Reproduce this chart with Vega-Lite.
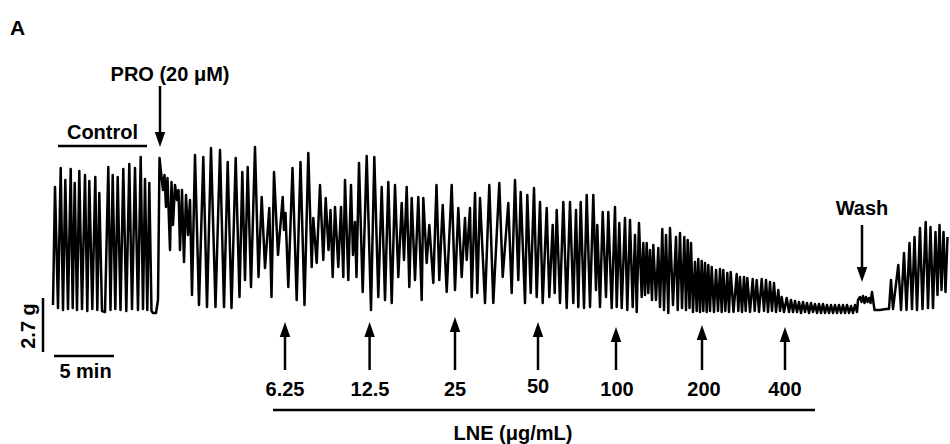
{
"$schema":"https://vega.github.io/schema/vega-lite/v6.json",
"width":950,"height":444,"autosize":{"type":"none"},"padding":0,"background":"white",
"config":{"view":{"stroke":null}},
"datasets":{
"trace":[
{"t":-5,"g":0.25},{"t":5,"g":6.15},{"t":20,"g":0.1},{"t":33.5,"g":7.1},{"t":45,"g":0},{"t":56.5,"g":6.5},{"t":70,"g":0.05},{"t":83.5,"g":7.05},{"t":93.5,"g":0.1},{"t":103.5,"g":6.35},{"t":115,"g":0},{"t":126.5,"g":6.95},{"t":140,"g":0.05},{"t":155,"g":6.75},{"t":166.5,"g":-0.05},{"t":176.5,"g":6.45},{"t":191.5,"g":0.05},{"t":206.5,"g":6.65},{"t":216.5,"g":0},{"t":226.5,"g":5.85},{"t":240,"g":-0.05},{"t":255,"g":-0.1},{"t":271.5,"g":7.15},{"t":282.5,"g":0},{"t":293.5,"g":6.75},{"t":306.5,"g":0.05},{"t":318.5,"g":6.65},{"t":332.5,"g":0},{"t":346.5,"g":7.05},{"t":361.5,"g":-0.05},{"t":376.5,"g":7.3},{"t":390,"g":0.05},{"t":405,"g":7.1},{"t":420,"g":0},{"t":433.5,"g":7.65},{"t":445,"g":0.05},{"t":455,"g":6.55},{"t":466.5,"g":0},{"t":476.5,"g":6.35},{"t":487.5,"g":-0.05},{"t":495,"g":-0.15},{"t":510,"g":-0.15},{"t":520,"g":0.5},{"t":527.5,"g":7.6},
{"t":535,"g":6.9},{"t":545,"g":6.0},{"t":552.5,"g":6.75},{"t":560,"g":5.15},{"t":567.5,"g":6.6},{"t":580,"g":3.0},{"t":587.5,"g":6.4},{"t":595,"g":4.25},{"t":605,"g":6.25},{"t":615,"g":5.5},{"t":622.5,"g":6.0},{"t":630,"g":3.0},{"t":640,"g":6.0},{"t":650,"g":2.4},{"t":660,"g":5.75},{"t":670,"g":3.75},{"t":680,"g":5.5},{"t":690,"g":0.75},
{"t":705,"g":7.75},{"t":725,"g":0.25},{"t":746.5,"g":7.65},{"t":765,"g":0.15},{"t":785,"g":8.1},{"t":807.5,"g":0.15},{"t":830,"g":8.0},{"t":850,"g":0.15},{"t":868.5,"g":7.4},{"t":887.5,"g":0.1},{"t":908.5,"g":7.6},{"t":927.5,"g":0.65},{"t":941.5,"g":6.9},{"t":955,"g":1.5},{"t":968.5,"g":7.15},{"t":985,"g":1.15},{"t":1005,"g":8.15},{"t":1022.5,"g":1.65},{"t":1038.5,"g":5.65},{"t":1055,"g":2.1},{"t":1076.5,"g":5.1},{"t":1087.5,"g":0.65},{"t":1100,"g":6.9},{"t":1120,"g":2.75},{"t":1143.5,"g":5.65},{"t":1150,"g":4.0},{"t":1157.5,"g":4.85},{"t":1171.5,"g":1.15},{"t":1192.5,"g":7.1},{"t":1213.5,"g":0.5},{"t":1232.5,"g":7.4},{"t":1252.5,"g":0.25},{"t":1271.5,"g":7.85},{"t":1288.5,"g":2.15},{"t":1296.5,"g":4.6},{"t":1313.5,"g":2.35},{"t":1330,"g":6.25},{"t":1346.5,"g":2.5},{"t":1358.5,"g":5.6},{"t":1372.5,"g":3.0},{"t":1382.5,"g":5.0},{"t":1393.5,"g":1.65},{"t":1405,"g":5.15},{"t":1421.5,"g":2.15},{"t":1435,"g":5.15},{"t":1446.5,"g":1.65},{"t":1455,"g":6.5},{"t":1471.5,"g":1.5},{"t":1485,"g":6.25},{"t":1495,"g":2.75},{"t":1505,"g":4.4},{"t":1512.5,"g":1.65},{"t":1525,"g":7.35},{"t":1543.5,"g":0.9},{"t":1563.5,"g":7.7},{"t":1585,"g":0},{"t":1601.5,"g":7.65},{"t":1621.5,"g":0.65},{"t":1638.5,"g":6.15},{"t":1655,"g":0.5},{"t":1671.5,"g":6.4},{"t":1688.5,"g":0.35},{"t":1705,"g":6.25},{"t":1721.5,"g":1.65},{"t":1738.5,"g":5.35},{"t":1750,"g":2.5},{"t":1763.5,"g":6.15},{"t":1776.5,"g":1.15},{"t":1788.5,"g":5.6},{"t":1805,"g":1.5},{"t":1821.5,"g":5.65},{"t":1838.5,"g":0.5},{"t":1846.5,"g":5.6},{"t":1863.5,"g":2.35},{"t":1876.5,"g":4.25},{"t":1896.5,"g":1.35},{"t":1912.5,"g":6.25},{"t":1926.5,"g":1.5},{"t":1943.5,"g":5.25},{"t":1963.5,"g":0.9},{"t":1988.5,"g":6.25},{"t":2005,"g":1.0},{"t":2021.5,"g":5.1},{"t":2038.5,"g":1.65},{"t":2055,"g":4.6},{"t":2063.5,"g":2.5},{"t":2080,"g":5.1},{"t":2088.5,"g":0.65},{"t":2105,"g":5.85},{"t":2116.5,"g":0.85},{"t":2130,"g":5.6},{"t":2155,"g":0.35},{"t":2176.5,"g":6.25},{"t":2196.5,"g":0.35},{"t":2226.5,"g":6.35},{"t":2243.5,"g":1.65},{"t":2271.5,"g":5.35},{"t":2288.5,"g":0.85},{"t":2305,"g":6.5},{"t":2321.5,"g":1.5},{"t":2333.5,"g":5.9},{"t":2355,"g":0.35},{"t":2366.5,"g":5.75},{"t":2383.5,"g":0.85},{"t":2400,"g":6.1},{"t":2413.5,"g":0.65},{"t":2430,"g":5.4},{"t":2443.5,"g":0.35},{"t":2463.5,"g":5.1},{"t":2476.5,"g":0.65},{"t":2493.5,"g":4.25},{"t":2503.5,"g":0.85},{"t":2513.5,"g":5.0},{"t":2530,"g":0.35},{"t":2546.5,"g":5.4},{"t":2563.5,"g":0.1},{"t":2580,"g":5.4},{"t":2596.5,"g":0.35},{"t":2610,"g":5.0},{"t":2621.5,"g":0.15},{"t":2633.5,"g":5.4},{"t":2650,"g":0.1},{"t":2663.5,"g":5.75},{"t":2680,"g":0.15},{"t":2696.5,"g":5.75},{"t":2710,"g":1.0},{"t":2716.5,"g":4.25},{"t":2730,"g":0.15},{"t":2743.5,"g":4.9},{"t":2760,"g":0.65},{"t":2771.5,"g":4.9},{"t":2788.5,"g":0.1},{"t":2805,"g":5.15},{"t":2813.5,"g":0.15},{"t":2826.5,"g":4.35},{"t":2838.5,"g":0.1},{"t":2855,"g":4.6},{"t":2866.5,"g":0},{"t":2880,"g":4.5},{"t":2893.5,"g":0.15},{"t":2905,"g":3.75},{"t":2913.5,"g":-0.1},{"t":2925,"g":4.35},{"t":2938.5,"g":0.65},{"t":2946.5,"g":3.35},{"t":2955,"g":0.75},{"t":2963.5,"g":3.35},{"t":2971.5,"g":0.85},{"t":2980,"g":3.0},{"t":2990,"g":0.5},{"t":2996.5,"g":3.25},{"t":3010,"g":0.5},{"t":3021.5,"g":3.1},{"t":3030,"g":0.15},{"t":3041.5,"g":4.05},{"t":3050,"g":0},{"t":3060,"g":3.75},{"t":3071.5,"g":-0.15},{"t":3080,"g":4.1},{"t":3095,"g":0.25},{"t":3110,"g":3.65},{"t":3118.5,"g":0},{"t":3130,"g":3.85},{"t":3140,"g":0.1},{"t":3151.5,"g":3.65},{"t":3160,"g":0},{"t":3168.5,"g":3.5},{"t":3177.5,"g":0.1},{"t":3185,"g":3.35},{"t":3195,"g":-0.1},{"t":3205,"g":2.4},{"t":3213.5,"g":-0.05},{"t":3221.5,"g":2.55},{"t":3230,"g":-0.1},{"t":3238.5,"g":2.45},{"t":3246.5,"g":-0.05},{"t":3255,"g":2.35},{"t":3263.5,"g":-0.1},{"t":3271.5,"g":2.25},{"t":3280,"g":-0.05},{"t":3288.5,"g":2.15},{"t":3300,"g":-0.1},{"t":3310,"g":2.0},{"t":3320,"g":-0.05},{"t":3330,"g":2.05},{"t":3338.5,"g":-0.1},{"t":3346.5,"g":2.0},{"t":3356.5,"g":-0.05},{"t":3366.5,"g":1.85},{"t":3375,"g":-0.1},{"t":3383.5,"g":1.9},{"t":3397.5,"g":-0.1},{"t":3413.5,"g":1.8},{"t":3421.5,"g":-0.05},{"t":3430,"g":1.65},{"t":3440,"g":-0.1},{"t":3450,"g":1.65},{"t":3458.5,"g":-0.05},{"t":3466.5,"g":1.6},{"t":3480,"g":-0.1},{"t":3493.5,"g":1.55},{"t":3503.5,"g":-0.05},{"t":3513.5,"g":1.5},{"t":3525,"g":-0.1},{"t":3538.5,"g":1.55},{"t":3550,"g":-0.05},{"t":3560,"g":1.5},{"t":3570,"g":-0.1},{"t":3580,"g":1.4},{"t":3590,"g":-0.05},{"t":3600,"g":1.35},{"t":3610,"g":-0.1},{"t":3621.5,"g":1.0},{"t":3630,"g":-0.05},{"t":3638.5,"g":0.65},{"t":3650,"g":-0.1},{"t":3663.5,"g":0.6},{"t":3675,"g":-0.1},
{"t":3685,"g":0.5},{"t":3695,"g":-0.1},{"t":3705,"g":0.45},{"t":3715,"g":-0.1},{"t":3725,"g":0.4},{"t":3735,"g":-0.15},{"t":3745,"g":0.4},{"t":3755,"g":-0.1},{"t":3765,"g":0.35},{"t":3775,"g":-0.15},{"t":3785,"g":0.35},{"t":3795,"g":-0.1},{"t":3805,"g":0.3},{"t":3815,"g":-0.15},{"t":3825,"g":0.3},{"t":3835,"g":-0.15},{"t":3845,"g":0.3},{"t":3855,"g":-0.15},{"t":3865,"g":0.25},{"t":3875,"g":-0.15},{"t":3885,"g":0.25},{"t":3895,"g":-0.15},{"t":3905,"g":0.25},{"t":3915,"g":-0.15},{"t":3925,"g":0.25},{"t":3935,"g":-0.15},{"t":3945,"g":0.25},{"t":3955,"g":-0.15},{"t":3965,"g":0.25},{"t":3975,"g":-0.15},{"t":3985,"g":0.2},{"t":3995,"g":-0.15},{"t":4005,"g":0.25},{"t":4015,"g":-0.1},
{"t":4020,"g":0.5},{"t":4030,"g":0.65},{"t":4037.5,"g":0.4},{"t":4045,"g":0.7},{"t":4052.5,"g":0.35},{"t":4060,"g":0.65},{"t":4067.5,"g":0.4},{"t":4075,"g":0.6},{"t":4082.5,"g":0.35},{"t":4090,"g":0.9},{"t":4097.5,"g":0.35},{"t":4102.5,"g":0},{"t":4130,"g":0},{"t":4160,"g":0.05},{"t":4175,"g":0.05},
{"t":4185,"g":1.5},{"t":4195,"g":0.05},{"t":4221.5,"g":2.25},{"t":4235,"g":0},{"t":4250,"g":2.85},{"t":4262.5,"g":0},{"t":4277.5,"g":3.35},{"t":4290,"g":0.05},{"t":4302.5,"g":3.65},{"t":4315,"g":0},{"t":4330,"g":4.1},{"t":4342.5,"g":0.05},{"t":4358.5,"g":4.4},{"t":4370,"g":0.1},{"t":4382.5,"g":4.15},{"t":4395,"g":0.1},{"t":4407.5,"g":3.9},{"t":4417.5,"g":0.75},{"t":4427.5,"g":4.25},{"t":4437.5,"g":1.0},{"t":4447.5,"g":3.9},{"t":4457.5,"g":0.9},{"t":4467.5,"g":3.65}
],
"rules":[
{"item":"Control bar","t1":20,"t2":465,"g1":8.2,"g2":8.2},
{"item":"5 min bar","t1":0,"t2":300,"g1":-2.3,"g2":-2.3},
{"item":"2.7 g bar","t1":-55,"t2":-55,"g1":0.6,"g2":-2.1},
{"item":"LNE bar","t1":1095,"t2":3805,"g1":-5.0,"g2":-5.0},
{"item":"PRO","t1":530,"t2":530,"g1":11.2,"g2":8.6},
{"item":"Wash","t1":4040,"t2":4040,"g1":4.25,"g2":1.9},
{"item":"6.25","t1":1155,"t2":1155,"g1":-1.05,"g2":-3.0},
{"item":"12.5","t1":1578,"t2":1578,"g1":-1.05,"g2":-3.0},
{"item":"25","t1":2005,"t2":2005,"g1":-0.8,"g2":-3.0},
{"item":"50","t1":2420,"t2":2420,"g1":-1.05,"g2":-3.0},
{"item":"100","t1":2810,"t2":2810,"g1":-1.3,"g2":-3.0},
{"item":"200","t1":3240,"t2":3240,"g1":-1.2,"g2":-3.0},
{"item":"400","t1":3655,"t2":3655,"g1":-1.3,"g2":-3.0}
],
"downHeads":[
{"item":"PRO","t":530,"g":8.53},
{"item":"Wash","t":4040,"g":1.78}
],
"upHeads":[
{"item":"6.25","t":1155,"g":-0.975},
{"item":"12.5","t":1578,"g":-0.975},
{"item":"25","t":2005,"g":-0.725},
{"item":"50","t":2420,"g":-0.975},
{"item":"100","t":2810,"g":-1.225},
{"item":"200","t":3240,"g":-1.125},
{"item":"400","t":3655,"g":-1.225}
],
"labels":[
{"label":"PRO (20 μM)","t":580,"g":11.45},
{"label":"Control","t":242.5,"g":8.55},
{"label":"5 min","t":157.5,"g":-3.4},
{"label":"Wash","t":4040,"g":4.75},
{"label":"6.25","t":1155,"g":-4.3},
{"label":"12.5","t":1580,"g":-4.3},
{"label":"25","t":2005,"g":-4.3},
{"label":"50","t":2420,"g":-4.15},
{"label":"100","t":2815,"g":-4.3},
{"label":"200","t":3250,"g":-4.3},
{"label":"400","t":3655,"g":-4.3},
{"label":"LNE (μg/mL)","t":2295,"g":-6.5}
],
"panel":[
{"label":"A","t":-182.5,"g":13.75}
],
"vlabels":[
{"label":"2.7 g","t":-97.5,"g":-0.8}
]
},
"layer":[
{"data":{"name":"trace"},
 "mark":{"type":"line","color":"black","strokeWidth":2.5,"strokeJoin":"round"},
 "encoding":{
  "x":{"field":"t","type":"quantitative","scale":{"domain":[-270,4480],"nice":false,"zero":false},"axis":null},
  "y":{"field":"g","type":"quantitative","scale":{"domain":[-6.7,15.5],"nice":false,"zero":false},"axis":null}}},
{"data":{"name":"rules"},
 "mark":{"type":"rule","color":"black","strokeWidth":2.5},
 "encoding":{
  "x":{"field":"t1","type":"quantitative"},"x2":{"field":"t2"},
  "y":{"field":"g1","type":"quantitative"},"y2":{"field":"g2"}}},
{"data":{"name":"downHeads"},
 "mark":{"type":"point","shape":"M-0.7,-1L0.7,-1L0,1Z","filled":true,"color":"black","opacity":1,"size":225,"strokeWidth":0},
 "encoding":{"x":{"field":"t","type":"quantitative"},"y":{"field":"g","type":"quantitative"}}},
{"data":{"name":"upHeads"},
 "mark":{"type":"point","shape":"M-0.7,1L0.7,1L0,-1Z","filled":true,"color":"black","opacity":1,"size":225,"strokeWidth":0},
 "encoding":{"x":{"field":"t","type":"quantitative"},"y":{"field":"g","type":"quantitative"}}},
{"data":{"name":"labels"},
 "mark":{"type":"text","font":"Liberation Sans","fontWeight":"bold","fontSize":20,"align":"center","baseline":"alphabetic","color":"black"},
 "encoding":{"x":{"field":"t","type":"quantitative"},"y":{"field":"g","type":"quantitative"},"text":{"field":"label"}}},
{"data":{"name":"panel"},
 "mark":{"type":"text","font":"Liberation Sans","fontWeight":"bold","fontSize":21,"align":"center","baseline":"alphabetic","color":"black"},
 "encoding":{"x":{"field":"t","type":"quantitative"},"y":{"field":"g","type":"quantitative"},"text":{"field":"label"}}},
{"data":{"name":"vlabels"},
 "mark":{"type":"text","font":"Liberation Sans","fontWeight":"bold","fontSize":20,"align":"center","baseline":"alphabetic","angle":270,"color":"black"},
 "encoding":{"x":{"field":"t","type":"quantitative"},"y":{"field":"g","type":"quantitative"},"text":{"field":"label"}}}
]
}
